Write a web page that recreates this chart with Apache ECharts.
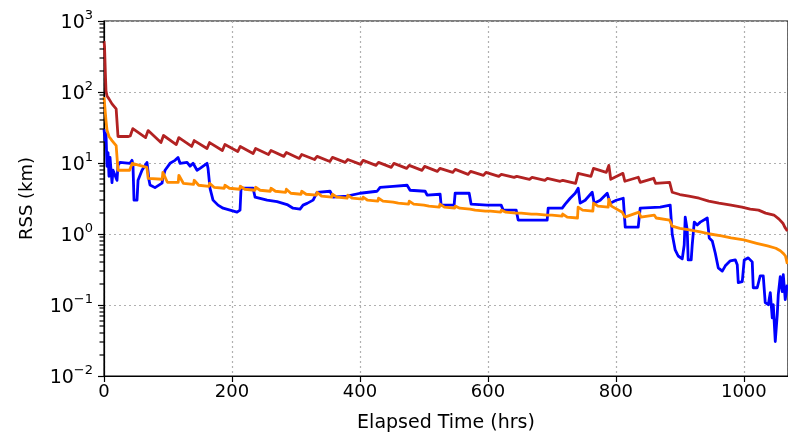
<!DOCTYPE html>
<html>
<head>
<meta charset="utf-8">
<script src="https://cdn.jsdelivr.net/npm/echarts@6/dist/echarts.min.js"></script>
<style>
html,body{margin:0;padding:0;background:#fff;}
#chart{width:788px;height:441px;}
</style>
</head>
<body>
<div id="chart"></div>
<script>
// ---- data ----
const xTicks = [0, 200, 400, 600, 800, 1000];
const yDecades = [0.01, 0.1, 1, 10, 100, 1000];

const brownT = [0,0.8,2.0,3.1,4.7,7.8,9.4,12.5,15.6,19,20.3,21.9,37.5,41,
45,65,69,89,93,113,117,137,141,161,165,185,189,209,213,233,237,257,261,281,
285,305,309,329,333,353,357,377,381,401,405,425,429,449,453,473,477,497,501,521,
525,545,549,569,573,593,597,617,621,641,645,665,669,689,693,713,717,737,741,761,
765,785,789,792,811,814,835,838,859,862,884,888,
900,914,930,945,961,980,997,1010,1023,1034,1047,1055,1061,1064,1068];
const brownV = [520,440,200,104,88,80,75,68,64,58,56,23.6,23.6,24,
30.5,22.8,28.6,19.4,24.4,18.2,22.8,17.1,20.7,16.0,19.4,15.0,18.2,14.5,17.1,13.6,16.0,13.2,15.0,12.4,
14.1,11.6,13.2,11.2,12.4,10.5,12.0,10.2,11.2,9.56,10.9,9.26,10.2,8.68,9.87,8.40,9.26,7.88,8.96,7.63,
8.40,7.38,8.14,6.92,7.63,6.71,7.38,6.49,6.92,6.28,6.49,5.89,6.28,5.71,6.09,5.53,5.71,5.18,7.15,6.49,
8.40,7.38,9.26,5.9,7.15,5.53,6.3,5.35,6.09,5.18,5.35,3.87,
3.6,3.41,3.19,2.9,2.72,2.55,2.39,2.24,2.17,1.97,1.85,1.62,1.42,1.25,1.1];

const orangeT = [0,1.6,3.1,4.7,7.8,12.5,19,20.3,21.9,40,
44,67,69,91,92,99,116,117,124,140,141,148,164,165,172,188,189,196,212,213,220,236,
237,244,260,261,268,284,285,292,308,309,316,332,333,340,356,357,364,380,381,388,404,
405,412,428,429,436,452,453,460,476,477,484,500,501,508,524,525,532,548,549,556,572,
573,580,596,597,604,620,621,628,644,645,652,668,669,676,692,693,700,716,717,724,740,
741,748,764,765,772,788,789,793,810,814,836,839,860,863,884,888,
900,915,932,947,965,980,1000,1020,1037,1050,1057,1062,1065,1068];
const orangeV = [85,82,40,29,23.6,20.7,17.6,16.5,7.9,7.9,
9.87,8.68,6.09,5.9,7.38,5.35,5.35,6.71,5.18,5.0,5.71,4.86,4.7,5.18,4.55,4.41,4.86,4.41,4.27,4.7,4.27,4.13,
4.55,4.13,4.0,4.41,4.0,3.87,4.27,3.75,3.63,4.0,3.63,3.52,3.87,3.41,3.30,3.63,3.30,3.19,3.52,3.19,3.09,
3.30,2.99,2.90,3.19,2.90,2.81,2.99,2.72,2.63,2.90,2.63,2.55,2.72,2.47,2.39,2.63,2.39,2.31,2.47,2.31,2.24,
2.39,2.17,2.10,2.24,2.10,2.03,2.17,2.03,1.97,2.10,1.97,1.91,2.03,1.91,1.85,1.97,1.85,1.79,1.91,1.73,1.68,
2.39,2.17,2.10,2.72,2.47,2.39,3.09,2.47,2.03,1.73,2.03,1.73,1.85,1.68,1.57,1.29,
1.2,1.14,1.07,1.0,0.94,0.88,0.824,0.74,0.68,0.63,0.58,0.53,0.49,0.38];

const blueT = [0,1.6,3.1,4.7,6.3,7.8,9.4,12.5,14.1,17,20.3,21.9,25,40.7,43.8,45.3,46.9,51.6,53.2,59.4,
67.2,68.8,70.4,71.9,79.7,82.7,90.7,92.2,95.4,98.5,103.2,111,115.7,118.8,129.8,134.5,139.2,145.4,150.1,161,
162.6,165.7,170.4,178.2,186.1,197,207.9,212.6,214.2,233,236.1,254.9,270.5,286.1,295.5,306.4,311.1,317.4,326.8,333,
353.3,358,379.9,400.2,426.8,431.5,451.8,473.7,478.4,501.9,505,525.3,526.9,547.2,548.8,570.7,573.8,598.8,620.7,623.8,
644.2,647.3,692.6,694.2,716.1,720.8,728.6,736.4,741.1,744.2,752,763,766.1,775.5,786.4,791.1,800.5,811.5,814.6,834.9,
838,869.3,884.9,888,892.7,897.4,903.7,906.8,908.4,911.5,913,917.7,919.3,922.5,927.1,931.9,942.8,945.9,950.6,955.3,
960,966.3,971,978.8,986.6,989.7,991.3,997.5,1000.6,1006.9,1013.1,1014.7,1020.9,1025.6,1030.3,1033.4,1038.2,1041.3,1044.4,1046,
1049.1,1052.2,1053.8,1056.9,1060,1061.6,1064.7,1067.8];
const blueV = [30,21,26,9,14,6.5,12,5.3,7.9,7.5,5.7,9.3,10.2,9.9,10.9,9.3,3.0,3.0,5.7,7.9,
10.2,9.9,5.7,4.9,4.5,4.4,5.2,6.3,7.9,7.9,9.9,10.9,12.0,9.9,10.2,9.0,9.9,7.9,8.4,9.9,
8.4,4.4,3.0,2.55,2.31,2.17,2.03,2.17,4.41,4.41,3.3,3.0,2.85,2.6,2.31,2.24,2.55,2.7,3.0,3.87,
4.0,3.3,3.41,3.75,4.0,4.55,4.7,4.86,4.13,4.0,3.52,3.63,2.55,2.55,3.75,3.75,2.63,2.55,2.55,2.17,
2.17,1.57,1.57,2.31,2.31,2.63,3.19,3.75,4.41,2.72,2.99,3.87,2.72,2.99,3.75,2.72,2.99,3.19,1.25,1.25,
2.31,2.39,2.55,1.0,0.597,0.49,0.447,0.70,1.73,1.14,0.432,0.432,0.70,1.47,1.34,1.47,1.68,0.88,0.80,0.54,
0.334,0.30,0.356,0.419,0.432,0.368,0.206,0.213,0.432,0.461,0.405,0.175,0.175,0.258,0.258,0.108,0.101,0.149,0.066,0.101,
0.0306,0.0734,0.14,0.25,0.154,0.267,0.119,0.193];

// ---- build ----
const zip = (t, v) => t.map((x, i) => [x, v[i]]);
const minorVals = [];
yDecades.slice(0, -1).forEach(d => { for (let k = 2; k <= 9; k++) minorVals.push(+(d * k).toPrecision(6)); });

const FONT = 'DejaVu Sans';
const chart = echarts.init(document.getElementById('chart'), null, {renderer: 'canvas'});
const lineSeries = (name, data, color, z) => ({
  name, type: 'line', data, showSymbol: false, symbol: 'none', z,
  lineStyle: {color, width: 2.8, join: 'round'}, animation: false, clip: true
});

chart.setOption({
  animation: false,
  backgroundColor: '#fff',
  grid: {left: 104, right: 0, top: 21, bottom: 65, show: true, borderColor: '#000', borderWidth: 1.2, backgroundColor: 'transparent'},
  xAxis: {
    type: 'value', min: 0, max: 1069, interval: 200,
    name: 'Elapsed Time (hrs)', nameLocation: 'middle', nameGap: 38,
    nameTextStyle: {fontFamily: FONT, fontSize: 19, color: '#000'},
    axisLine: {show: true, lineStyle: {color: '#000', width: 1.2}},
    axisTick: {show: true, length: 6, lineStyle: {color: '#000', width: 1.2}},
    axisLabel: {fontFamily: FONT, fontSize: 18, color: '#000', margin: 7, showMaxLabel: false,
      formatter: v => String(v)},
    splitLine: {show: true, lineStyle: {color: '#b0b0b0', type: [2, 3], width: 1.2}}
  },
  yAxis: {
    type: 'log', logBase: 10, min: 0.01, max: 1000,
    name: 'RSS (km)', nameLocation: 'middle', nameGap: 68, nameRotate: 90,
    nameTextStyle: {fontFamily: FONT, fontSize: 18, color: '#000'},
    axisLine: {show: true, lineStyle: {color: '#000', width: 1.2}},
    axisTick: {show: true, length: 6, lineStyle: {color: '#000', width: 1.2}},
    axisLabel: {
      margin: 11,
      formatter: v => { const e = Math.round(Math.log10(v)); return '{b|10}{s|' + (e < 0 ? '\u2212' + (-e) : e) + '}'; },
      rich: {
        b: {fontFamily: FONT, fontSize: 19, color: '#000', verticalAlign: 'bottom', lineHeight: 21},
        s: {fontFamily: FONT, fontSize: 13, color: '#000', verticalAlign: 'bottom', padding: [0, 0, 10, 0]}
      }
    },
    splitLine: {show: true, lineStyle: {color: '#b0b0b0', type: [2, 3], width: 1.2}}
  },
  series: [
    lineSeries('blue', zip(blueT, blueV), '#0000ff', 2),
    lineSeries('brown', zip(brownT, brownV), '#b22222', 3),
    lineSeries('orange', zip(orangeT, orangeV), '#ff8c00', 4)
  ]
});

// minor log ticks on the y axis, positioned through the chart's own scales
const minorGraphics = minorVals.map(v => {
  const p = chart.convertToPixel({xAxisIndex: 0, yAxisIndex: 0}, [0, v]);
  const y = Math.round(p[1]);
  return {type: 'rect', silent: true, z: 100,
    shape: {x: p[0] - 4.5, y: y - 0.6, width: 4.5, height: 1.2},
    style: {fill: '#000'}};
});
chart.setOption({graphic: {elements: minorGraphics}});
</script>
</body>
</html>
